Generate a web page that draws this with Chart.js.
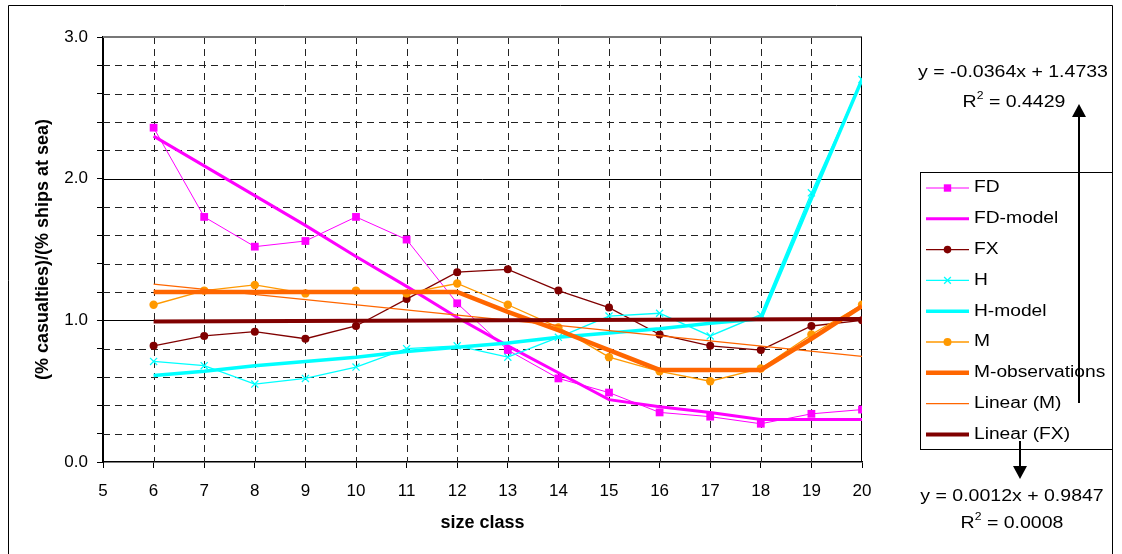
<!DOCTYPE html>
<html>
<head>
<meta charset="utf-8">
<script src="https://cdn.jsdelivr.net/npm/chart.js@4.4.1/dist/chart.umd.min.js"></script>
<style>
  html, body { margin: 0; padding: 0; background: #ffffff; }
  #wrap { width: 1122px; height: 554px; position: relative; }
</style>
</head>
<body>
<div id="wrap"><canvas id="c" width="1122" height="554"></canvas></div>
<script>
// Casualty ratio by ship size class
const sizeClasses    = [6, 7, 8, 9, 10, 11, 12, 13, 14, 15, 16, 17, 18, 19, 20];
const fd             = [2.36, 1.73, 1.52, 1.56, 1.73, 1.57, 1.12, 0.79, 0.59, 0.49, 0.35, 0.32, 0.27, 0.34, 0.37];
const fdModel        = [2.30, 2.09, 1.88, 1.67, 1.45, 1.24, 1.02, 0.82, 0.63, 0.44, 0.39, 0.35, 0.30, 0.30, 0.30];
const fx             = [0.82, 0.89, 0.92, 0.87, 0.96, 1.15, 1.34, 1.36, 1.21, 1.09, 0.90, 0.82, 0.79, 0.96, 1.00];
const h              = [0.71, 0.68, 0.55, 0.59, 0.67, 0.80, 0.82, 0.74, 0.88, 1.03, 1.05, 0.89, 1.04, 1.90, 2.70];
const hModel         = [0.61, 0.64, 0.68, 0.71, 0.74, 0.78, 0.81, 0.84, 0.88, 0.91, 0.94, 0.98, 1.01, 1.86, 2.70];
const m              = [1.11, 1.21, 1.25, 1.19, 1.21, 1.19, 1.26, 1.11, 0.95, 0.74, 0.64, 0.57, 0.66, 0.90, 1.11];
const mObservations  = [1.20, 1.20, 1.20, 1.20, 1.20, 1.20, 1.20, 1.06, 0.93, 0.79, 0.65, 0.65, 0.65, 0.87, 1.10];
// trendline end points (size class 6 and 20)
const trendRange     = [6, 20];
const linearM        = [1.255, 0.745];
const linearFX       = [0.992, 1.009];
// axis settings
const xRange         = [5, 20];
const yRange         = [0, 3];
const yLabelValues   = [0, 1, 2, 3];
const equationM      = ['y = -0.0364x + 1.4733', '0.4429'];
const equationFX     = ['y = 0.0012x + 0.9847', '0.0008'];

const FONT = "'Liberation Sans', Arial, sans-serif";
const pts = (xs, ys) => ys.map((v, i) => ({ x: xs[i], y: v }));

const series = [
  { label: 'FD', data: pts(sizeClasses, fd), borderColor: '#FF00FF', backgroundColor: '#FF00FF',
    borderWidth: 1, pointStyle: 'rect', pointRadius: 5.5, pointBorderWidth: 0 },
  { label: 'FD-model', data: pts(sizeClasses, fdModel), borderColor: '#FF00FF', backgroundColor: '#FF00FF',
    borderWidth: 3, pointRadius: 0 },
  { label: 'FX', data: pts(sizeClasses, fx), borderColor: '#800000', backgroundColor: '#800000',
    borderWidth: 1.3, pointStyle: 'circle', pointRadius: 4, pointBorderWidth: 0 },
  { label: 'H', data: pts(sizeClasses, h), borderColor: '#00FFFF', backgroundColor: '#00FFFF',
    borderWidth: 1.3, pointStyle: 'crossRot', pointRadius: 5, pointBorderWidth: 1.3 },
  { label: 'H-model', data: pts(sizeClasses, hModel), borderColor: '#00FFFF', backgroundColor: '#00FFFF',
    borderWidth: 3.5, pointRadius: 0 },
  { label: 'M', data: pts(sizeClasses, m), borderColor: '#FF9900', backgroundColor: '#FF9900',
    borderWidth: 1.3, pointStyle: 'circle', pointRadius: 4.2, pointBorderWidth: 0 },
  { label: 'M-observations', data: pts(sizeClasses, mObservations), borderColor: '#FF6600', backgroundColor: '#FF6600',
    borderWidth: 4.5, pointRadius: 0 },
  { label: 'Linear (M)', data: pts(trendRange, linearM), borderColor: '#FF6600', backgroundColor: '#FF6600',
    borderWidth: 1.3, pointRadius: 0 },
  { label: 'Linear (FX)', data: pts(trendRange, linearFX), borderColor: '#800000', backgroundColor: '#800000',
    borderWidth: 4, pointRadius: 0 }
];
// later series paint over earlier ones
series.forEach((s, i) => {
  s.order = series.length - i;
  s.fill = false;
  s.tension = 0;
  s.pointHoverRadius = s.pointRadius;
  s.pointBorderColor = s.borderColor;
  s.pointBackgroundColor = s.backgroundColor;
});

// dashed / solid grid inside the plot area
const gridPlugin = {
  id: 'plotGrid',
  beforeDatasetsDraw(chart) {
    const { ctx, chartArea: a, scales: { x, y } } = chart;
    ctx.save();
    ctx.lineWidth = 1;
    ctx.strokeStyle = '#222';
    ctx.setLineDash([7, 5]);
    x.ticks.forEach(t => {
      if (t.value <= xRange[0] || t.value >= xRange[1]) return;
      const px = Math.round(x.getPixelForValue(t.value)) + 0.5;
      ctx.beginPath(); ctx.moveTo(px, a.top); ctx.lineTo(px, a.bottom); ctx.stroke();
    });
    y.ticks.forEach(t => {
      const major = Math.abs(t.value - Math.round(t.value)) < 1e-6;
      if (major) return;
      const py = Math.round(y.getPixelForValue(t.value)) + 0.5;
      ctx.beginPath(); ctx.moveTo(a.left, py); ctx.lineTo(a.right, py); ctx.stroke();
    });
    ctx.setLineDash([]);
    ctx.strokeStyle = '#000';
    y.ticks.forEach(t => {
      const major = Math.abs(t.value - Math.round(t.value)) < 1e-6;
      if (!major || t.value <= yRange[0] || t.value >= yRange[1]) return;
      const py = Math.round(y.getPixelForValue(t.value)) + 0.5;
      ctx.beginPath(); ctx.moveTo(a.left, py); ctx.lineTo(a.right, py); ctx.stroke();
    });
    // top edge of the plot
    ctx.strokeStyle = '#777';
    ctx.lineWidth = 2;
    const topY = Math.round(y.getPixelForValue(yRange[1]));
    ctx.beginPath(); ctx.moveTo(a.left, topY); ctx.lineTo(a.right, topY); ctx.stroke();
    // right edge of the plot
    ctx.strokeStyle = '#000';
    ctx.lineWidth = 1;
    const rx = Math.round(x.getPixelForValue(xRange[1])) - 0.5;
    ctx.beginPath(); ctx.moveTo(rx, a.top); ctx.lineTo(rx, a.bottom); ctx.stroke();
    ctx.restore();
  }
};

function stretchedText(ctx, text, x, y, align, size, sx, bold) {
  ctx.save();
  ctx.font = (bold ? 'bold ' : '') + size + 'px ' + FONT;
  const w = ctx.measureText(text).width * sx;
  let left = x;
  if (align === 'center') left = x - w / 2;
  else if (align === 'right') left = x - w;
  ctx.translate(left, y);
  ctx.scale(sx, 1);
  ctx.textAlign = 'left';
  ctx.textBaseline = 'middle';
  ctx.fillStyle = '#000';
  ctx.fillText(text, 0, 0);
  ctx.restore();
  return w;
}

function rSquared(ctx, value, cx, y) {
  const sx = 1.22;
  ctx.save();
  ctx.font = '16px ' + FONT;
  const wR = ctx.measureText('R').width * sx;
  const rest = ' = ' + value;
  const wRest = ctx.measureText(rest).width * sx;
  ctx.font = '10px ' + FONT;
  const w2 = ctx.measureText('2').width * sx;
  ctx.restore();
  const total = wR + w2 + wRest;
  let left = cx - total / 2;
  stretchedText(ctx, 'R', left, y, 'left', 16, sx);
  stretchedText(ctx, '2', left + wR, y - 7, 'left', 10, sx);
  stretchedText(ctx, rest, left + wR + w2, y, 'left', 16, sx);
}

function arrow(ctx, x, yFrom, yTip, dir) {
  ctx.save();
  ctx.strokeStyle = '#000';
  ctx.fillStyle = '#000';
  ctx.lineWidth = 2;
  const headLen = 13, headHalf = 7;
  const baseY = yTip - dir * headLen;
  ctx.beginPath(); ctx.moveTo(x, yFrom); ctx.lineTo(x, baseY); ctx.stroke();
  ctx.beginPath();
  ctx.moveTo(x, yTip);
  ctx.lineTo(x - headHalf, baseY);
  ctx.lineTo(x + headHalf, baseY);
  ctx.closePath();
  ctx.fill();
  ctx.restore();
}

// boxed legend, trendline equations and pointer arrows
const sidePlugin = {
  id: 'sidePanel',
  afterDraw(chart) {
    const ctx = chart.ctx;
    const H = Chart.helpers;
    ctx.save();
    // outer frame
    ctx.strokeStyle = '#000';
    ctx.lineWidth = 1;
    ctx.beginPath();
    ctx.moveTo(8.5, 600); ctx.lineTo(8.5, 5.5); ctx.lineTo(1112.5, 5.5); ctx.lineTo(1112.5, 600);
    ctx.stroke();
    // legend box
    ctx.fillStyle = '#fff';
    ctx.fillRect(920.5, 172.5, 192, 277);
    ctx.strokeRect(920.5, 172.5, 192, 277);
    chart.data.datasets.forEach((ds, i) => {
      const cy = 188 + i * 30.8;
      ctx.save();
      ctx.strokeStyle = ds.borderColor;
      ctx.lineWidth = ds.borderWidth;
      ctx.beginPath(); ctx.moveTo(926, cy); ctx.lineTo(969, cy); ctx.stroke();
      if (ds.pointRadius > 0) {
        ctx.fillStyle = ds.pointBackgroundColor;
        ctx.strokeStyle = ds.pointBorderColor;
        ctx.lineWidth = ds.pointBorderWidth;
        H.drawPoint(ctx, { pointStyle: ds.pointStyle, radius: ds.pointRadius * 0.95,
          borderWidth: ds.pointBorderWidth, rotation: 0 }, 947.5, cy);
      }
      ctx.restore();
      stretchedText(ctx, ds.label, 974, cy, 'left', 16, 1.2);
    });
    // equation of the M trendline
    stretchedText(ctx, equationM[0], 1013, 73, 'center', 16, 1.22);
    rSquared(ctx, equationM[1], 1014, 103);
    arrow(ctx, 1079, 403, 104, -1);
    // equation of the FX trendline
    stretchedText(ctx, equationFX[0], 1012, 497, 'center', 16, 1.22);
    rSquared(ctx, equationFX[1], 1012, 524);
    arrow(ctx, 1020, 441, 479, 1);
    ctx.restore();
  }
};

new Chart(document.getElementById('c'), {
  type: 'line',
  data: { datasets: series },
  options: {
    responsive: false,
    animation: false,
    devicePixelRatio: 1,
    parsing: true,
    layout: { padding: { top: 37, right: 260, left: 0, bottom: 0 } },
    plugins: { legend: { display: false }, tooltip: { enabled: false } },
    scales: {
      x: {
        type: 'linear',
        min: xRange[0], max: xRange[1],
        afterFit: s => { s.height = 92; },
        ticks: { stepSize: 1, color: '#000', padding: 13, maxRotation: 0, autoSkip: false,
                 font: { family: FONT, size: 17 } },
        grid: { drawOnChartArea: false, drawTicks: true, tickLength: 6, color: '#000', lineWidth: 1 },
        border: { display: true, color: '#000', width: 1.5 },
        title: { display: true, text: 'size class', color: '#000',
                 font: { family: FONT, size: 18, weight: 'bold' }, padding: { top: 0, bottom: 20 } }
      },
      y: {
        type: 'linear',
        min: yRange[0], max: yRange[1],
        afterFit: s => { s.width = 103; },
        ticks: { stepSize: 0.2, color: '#000', padding: 9, autoSkip: false,
                 font: { family: FONT, size: 17 },
                 callback: v => yLabelValues.some(k => Math.abs(k - v) < 1e-6) ? Number(v).toFixed(1) : '' },
        grid: { drawOnChartArea: false, drawTicks: true, tickLength: 6, color: '#000', lineWidth: 1 },
        border: { display: true, color: '#000', width: 2 },
        title: { display: true, text: '(% casualties)/(% ships at sea)', color: '#000',
                 font: { family: FONT, size: 18, weight: 'bold' }, padding: { top: 32, bottom: 0 } }
      }
    }
  },
  plugins: [gridPlugin, sidePlugin]
});
</script>
</body>
</html>
